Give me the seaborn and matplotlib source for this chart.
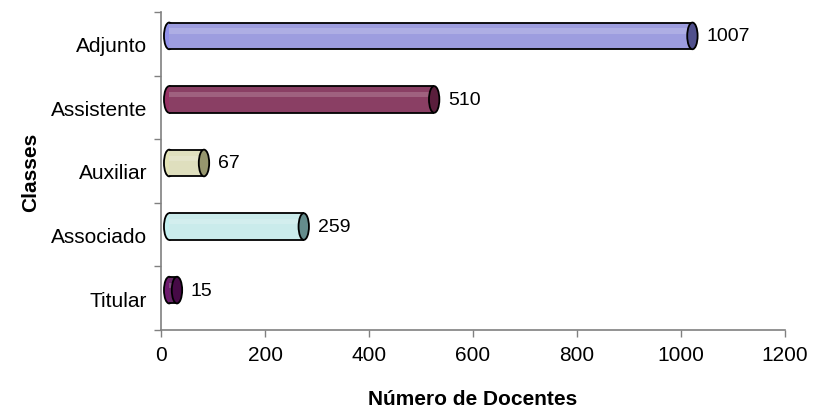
import numpy as np
import matplotlib
matplotlib.use("Agg")
from matplotlib import pyplot as plt
from matplotlib.patches import Ellipse
from matplotlib.transforms import ScaledTranslation
import seaborn as sns

sns.set_style("white")
plt.rcParams['font.family'] = ['Liberation Sans', 'DejaVu Sans']
plt.rcParams.update({'text.color': 'black', 'axes.labelcolor': 'black',
                     'xtick.color': 'black', 'ytick.color': 'black'})

classes = ["Adjunto", "Assistente", "Auxiliar", "Associado", "Titular"]
docentes = [1007, 510, 67, 259, 15]
bar_colors = ["#9292ea", "#963264", "#e4e4b8", "#c4f0f0", "#6e1a6e"]
end_colors = ["#50508c", "#5a1e3c", "#96966e", "#648c8c", "#460a46"]

fig = plt.figure(figsize=(8.14, 4.10), dpi=100)
ax = fig.add_axes([0.198, 0.193, 0.766, 0.775])

sns.barplot(x=docentes, y=classes, hue=classes, palette=bar_colors,
            legend=False, orient='h', width=0.42, linewidth=0, ax=ax)

# fake 3d depth: shift every bar up and to the right
depth = ScaledTranslation(8 / 100, 8 / 100, fig.dpi_scale_trans)
shifted = ax.transData + depth
cap_w = 20  # ellipse width in data units
lw = 1.3

bars = list(ax.patches)
for patch, fc, ec in zip(bars, bar_colors, end_colors):
    x0, y0 = patch.get_x(), patch.get_y()
    w, h = patch.get_width(), patch.get_height()
    patch.set_transform(shifted)
    patch.set_zorder(3)
    # rounded left end sits behind the body
    left = Ellipse((x0, y0 + h / 2), cap_w, h, facecolor=fc,
                   edgecolor='black', linewidth=lw, zorder=2,
                   transform=shifted)
    right = Ellipse((x0 + w, y0 + h / 2), cap_w, h, facecolor=ec,
                    edgecolor='black', linewidth=lw, zorder=4,
                    transform=shifted)
    ax.add_patch(left)
    ax.add_patch(right)
    # outline of the body: top and bottom only
    for yy in (y0, y0 + h):
        ax.plot([x0, x0 + w], [yy, yy], color='black', linewidth=lw,
                zorder=3.8, transform=shifted, solid_capstyle='butt')
    # light shine band on the upper part of the cylinder
    shine = plt.Rectangle((x0, y0 + h * 0.22), w, h * 0.2,
                          facecolor='white', alpha=0.18, linewidth=0,
                          zorder=3.5, transform=shifted)
    ax.add_patch(shine)
    ax.annotate(f"{w:.0f}", xy=(x0 + w, y0 + h / 2),
                xytext=(22, 8), textcoords='offset pixels',
                ha='left', va='center', fontsize=14, color='black')

ax.set_xlim(0, 1200)
ax.set_ylim(4.5, -0.5)
ax.set_xticks(np.arange(0, 1201, 200))
ax.tick_params(axis='x', labelsize=15, length=5, width=1, color='#808080',
               labelcolor='black', direction='out', pad=6, bottom=True)

ax.set_yticks(np.arange(-0.5, 5, 1))
ax.set_yticklabels([])
ax.set_yticks(range(len(classes)), minor=True)
ax.set_yticklabels(classes, minor=True, fontsize=15)
ax.tick_params(axis='y', which='major', length=5, width=1, color='#808080',
               direction='out', left=True)
ax.tick_params(axis='y', which='minor', length=0, pad=10, labelcolor='black')

for side in ['top', 'right']:
    ax.spines[side].set_visible(False)
for side in ['left', 'bottom']:
    ax.spines[side].set_color('#808080')
    ax.spines[side].set_linewidth(1.2)

ax.set_xlabel("Número de Docentes", fontsize=15, fontweight='bold', labelpad=18)
ax.set_ylabel("Classes", fontsize=15, fontweight='bold', labelpad=8)

fig.savefig("out.png", dpi=100)
